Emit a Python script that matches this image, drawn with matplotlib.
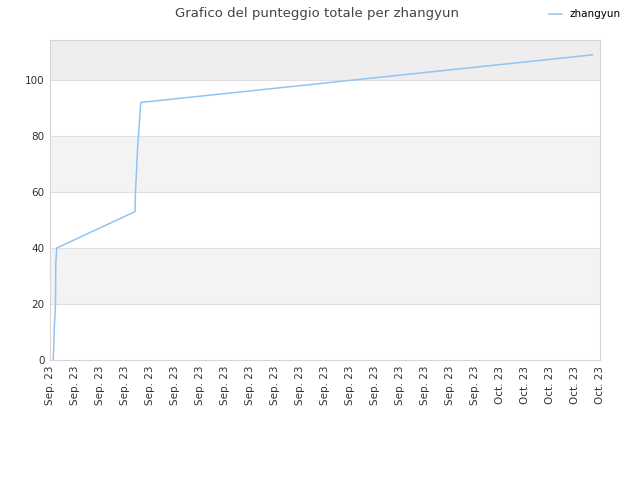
import matplotlib
matplotlib.use("Agg")
import matplotlib.pyplot as plt
import matplotlib.dates as mdates
from datetime import datetime, timedelta

base = datetime(2023, 9, 13)
day_offsets = [0.13, 0.15, 0.17, 0.22, 0.23, 0.27, 3.40, 3.42, 3.50, 3.63, 21.70]
scores = [0, 5, 11, 20, 34, 40, 53, 60, 75, 92, 109]
series_name = "zhangyun"
title = "Grafico del punteggio totale per zhangyun"
yticks = [0, 20, 40, 60, 80, 100]

times = [base + timedelta(days=d) for d in day_offsets]

plt.rcParams['font.family'] = ['DejaVu Sans']
fig = plt.figure(figsize=(6.4, 4.8), dpi=100)
ax = fig.add_axes([50/640, 120/480, 550/640, 320/480])

ymax = 114.3
ax.set_ylim(0, ymax)
ax.set_xlim(base, base + timedelta(days=22))

# bands
ax.axhspan(20, 40, color='#f3f3f3', zorder=0, lw=0)
ax.axhspan(60, 80, color='#f3f3f3', zorder=0, lw=0)
ax.axhspan(100, ymax, color='#eeeeee', zorder=0, lw=0)
for y in [20, 40, 60, 80, 100]:
    ax.axhline(y, color='#e0e0e0', lw=0.8, zorder=1)

ax.plot(times, scores, color='#90c4f5', lw=1.1, label=series_name, zorder=3)

ax.set_yticks(yticks)
ax.xaxis.set_major_locator(mdates.DayLocator())
ax.xaxis.set_major_formatter(mdates.DateFormatter('%b. %y'))
for lbl in ax.get_xticklabels():
    lbl.set_rotation(90)
ax.tick_params(axis='both', length=0, labelsize=7.5, colors='#333333', pad=4)
for s in ax.spines.values():
    s.set_color('#d5d5d5')
    s.set_linewidth(0.8)

fig.text(0.495, 0.986, title, ha='center', va='top', fontsize=9.5, color='#444444')
fig.legend(loc='upper right', bbox_to_anchor=(0.985, 1.0), frameon=False, fontsize=7.5,
           handlelength=1.2, labelcolor='#000000')

fig.savefig('out.png', dpi=100, facecolor='white')
